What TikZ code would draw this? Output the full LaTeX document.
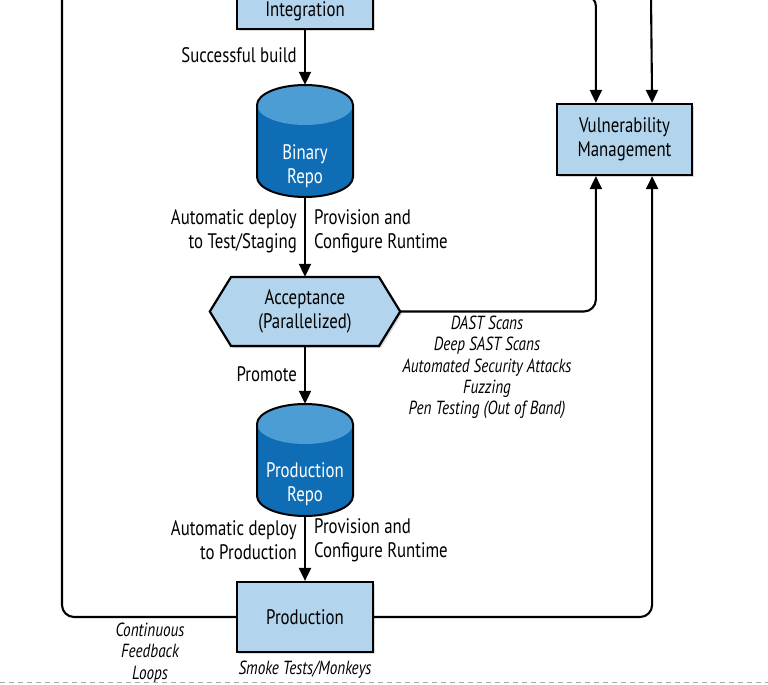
\documentclass[tikz,border=0pt]{standalone}
\usepackage{fontspec}
\setmainfont[FakeStretch=0.8]{PT Sans}
\usetikzlibrary{arrows.meta,shadows}
\definecolor{boxfill}{HTML}{B2D4EC}
\definecolor{repodark}{HTML}{0F6DB5}
\definecolor{repolight}{HTML}{4B9DD3}
\definecolor{dashgray}{HTML}{AAAAAA}
\newcommand{\drawrepo}[1]{% #1 = center y (negative)
  \path[fill=repodark] (257,#1+36) -- (257,#1-36)
    arc[start angle=180,end angle=360,x radius=48,y radius=20]
    -- (353,#1+36)
    arc[start angle=0,end angle=180,x radius=48,y radius=20] -- cycle;
  \fill[repolight] (305,#1+36) ellipse[x radius=48,y radius=20];
  \draw[line width=2pt] (257,#1+36) -- (257,#1-36)
    arc[start angle=180,end angle=360,x radius=48,y radius=20]
    -- (353,#1+36)
    arc[start angle=0,end angle=180,x radius=48,y radius=20] -- cycle;
}
\begin{document}
\begin{tikzpicture}[x=1pt,y=1pt,
  box/.style={draw=black,line width=2.2pt,fill=boxfill,minimum width=136pt,
    minimum height=70pt,align=center,inner sep=0pt,
    font=\fontsize{21}{24}\selectfont,
    drop shadow={opacity=0.3,shadow xshift=2pt,shadow yshift=-2pt}},
  conn/.style={line width=2.1pt,-{Triangle[length=13pt,width=12pt]}},
  plainline/.style={line width=2.1pt},
  lbl/.style={inner sep=0pt,font=\fontsize{21}{24}\selectfont},
  note/.style={inner sep=0pt,align=center,font=\itshape\fontsize{19}{21.3}\selectfont},
  repotext/.style={inner sep=0pt,align=center,text=white,font=\fontsize{21}{24}\selectfont},
  anchorbox/.style={inner sep=0pt,minimum width=96pt,minimum height=112pt}
]
\useasboundingbox (0,0) rectangle (768,-685);
\clip (0,0) rectangle (768,-685);

% nodes
\node[box] (int) at (305,6) {\phantom{X}\\[11pt]Integration};
\node[box,minimum width=135pt,minimum height=71pt] (vm) at (624.5,-139.5) {Vulnerability\\Management};
\node[box] (prod) at (305,-617) {Production};

\drawrepo{-141}
\node[anchorbox] (br) at (305,-141) {};
\node[repotext] (brt) at (305,-166) {Binary\\Repo};

\drawrepo{-460}
\node[anchorbox] (pr) at (305,-460) {};
\node[repotext] (prt) at (305,-484) {Production\\Repo};

\node[inner sep=0pt,minimum width=190pt,minimum height=69pt] (acc) at (305,-311.5) {};
\draw[line width=2.2pt,fill=boxfill,drop shadow={opacity=0.3,shadow xshift=2pt,shadow yshift=-2pt}]
  (acc.west) -- (231,-277) -- (379,-277) -- (acc.east) -- (379,-346) -- (231,-346) -- cycle;
\node[lbl,align=center] (acct) at (acc.center) {Acceptance\\(Parallelized)};

% coordinates for free ends
\coordinate (vmin1) at ([xshift=40pt]vm.south west);
\coordinate (vmin2) at ([xshift=-41pt]vm.south east);
\coordinate (vmtop1) at ([xshift=40pt]vm.north west);
\coordinate (vmtop2) at ([xshift=-41pt]vm.north east);
\coordinate (topleft) at (480,4);
\coordinate (toptwo) at (651,4);
\coordinate (lefttop) at (62,4);

% connectors
\draw[conn] (int.south) -- (br.north);
\draw[conn] (br.south) -- (acc.north);
\draw[conn] (acc.south) -- (pr.north);
\draw[conn] (pr.south) -- (prod.north);
\draw[conn,rounded corners=12pt] (acc.east) -| (vmin1);
\draw[conn,rounded corners=12pt] (prod.east) -| (vmin2);
\draw[plainline,rounded corners=12pt] (prod.west) -| (lefttop);
\draw[conn,rounded corners=10pt] (topleft) -| (vmtop1);
\draw[conn] (toptwo) -- (vmtop2);

% labels
\node[lbl,anchor=east] (l1) at (297,-55) {Successful build};
\node[lbl,anchor=east,align=right] (l2) at (297,-231) {Automatic deploy\\to Test/Staging};
\node[lbl,anchor=west,align=left] (l3) at (314,-231) {Provision and\\Configure Runtime};
\node[lbl,anchor=east] (l4) at (297,-374) {Promote};
\node[lbl,anchor=east,align=right] (l5) at (297,-540) {Automatic deploy\\to Production};
\node[lbl,anchor=west,align=left] (l6) at (314,-540) {Provision and\\Configure Runtime};
\node[note] (n1) at (487,-367.5) {DAST Scans\\Deep SAST Scans\\Automated Security Attacks\\Fuzzing\\Pen Testing (Out of Band)};
\node[note] (n2) at (150,-653) {Continuous\\Feedback\\Loops};
\node[note] (n3) at (305,-670) {Smoke Tests/Monkeys};

% dashed bottom line
\draw[dashgray,line width=1pt,dash pattern=on 5pt off 4pt] (0,-682) -- (768,-682);
\end{tikzpicture}
\end{document}
